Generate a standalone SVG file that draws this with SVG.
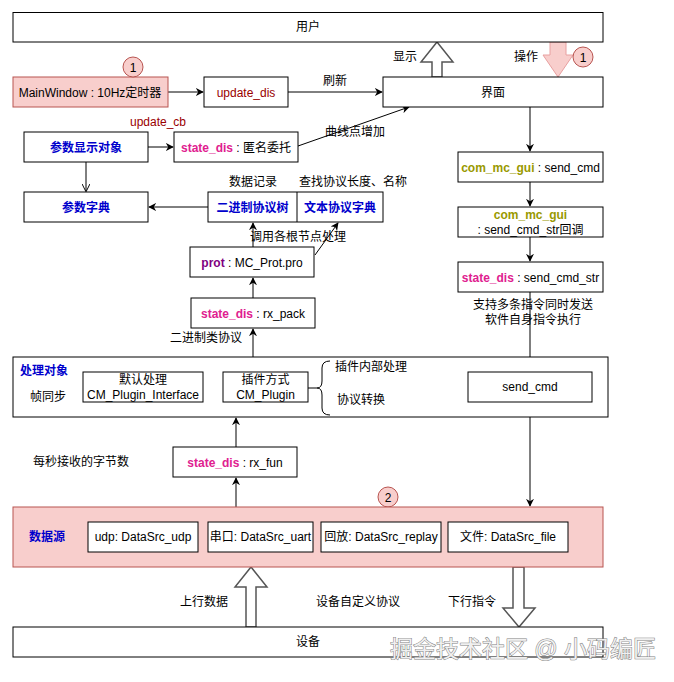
<svg xmlns="http://www.w3.org/2000/svg" width="674" height="682" viewBox="0 0 674 682">
<defs>
<style>
text{font-family:"Liberation Sans","Noto Sans CJK SC",sans-serif;font-size:12px;fill:#000;}
.c{text-anchor:middle;}
.box{fill:#fff;stroke:#000;stroke-width:1;}
.pink{fill:#f8cecc;stroke:#b85450;stroke-width:1;}
.blue{fill:#0000cc;font-weight:bold;}
.mag{fill:#e0208f;font-weight:bold;}
.olive{fill:#999900;font-weight:bold;}
.purp{fill:#800080;font-weight:bold;}
.red{fill:#990000;}
.ln{fill:none;stroke:#000;stroke-width:1;}
.gl{fill:none;stroke:#555;stroke-width:1.5;}
.hollow{fill:#fff;stroke:#555;stroke-width:1.5;}
.num{fill:#f8cecc;stroke:#b85450;stroke-width:1;}
</style>
<marker id="arr" viewBox="0 0 10 10" refX="9" refY="5" markerWidth="8" markerHeight="8" markerUnits="userSpaceOnUse" orient="auto">
<path d="M0,0 L10,5 L0,10 L3,5 Z" fill="#000"/>
</marker>
<marker id="open" viewBox="0 0 10 10" refX="9" refY="5" markerWidth="8" markerHeight="8" markerUnits="userSpaceOnUse" orient="auto">
<path d="M0,0 L10,5 L0,10" fill="none" stroke="#000" stroke-width="1.2"/>
</marker>
</defs>
<rect width="674" height="682" fill="#fff"/>

<g id="connectors">
<line class="ln" x1="168" y1="92" x2="203" y2="92" marker-end="url(#arr)"/>
<line class="ln" x1="288" y1="92" x2="382" y2="92" marker-end="url(#arr)"/>
<text class="c" x="335" y="85">刷新</text>
<line class="ln" x1="148" y1="147" x2="173" y2="147" marker-end="url(#arr)"/>
<line class="ln" x1="298" y1="146" x2="409" y2="107" marker-end="url(#arr)"/>
<text class="c" x="355" y="136">曲线点增加</text>
<line class="ln" x1="86" y1="162" x2="86" y2="191" marker-end="url(#open)"/>
<line class="ln" x1="208" y1="207" x2="149" y2="207" marker-end="url(#arr)"/>
<line class="ln" x1="253" y1="247" x2="253" y2="223" marker-end="url(#arr)"/>
<line class="ln" x1="315" y1="255" x2="338" y2="223" marker-end="url(#arr)"/>
<text class="c" x="298" y="241">调用各根节点处理</text>
<line class="ln" x1="253" y1="298" x2="253" y2="278" marker-end="url(#arr)"/>
<line class="ln" x1="253" y1="357" x2="253" y2="329" marker-end="url(#arr)"/>
<text class="c" x="206" y="342">二进制类协议</text>
<line class="ln" x1="236" y1="447" x2="236" y2="418" marker-end="url(#arr)"/>
<line class="ln" x1="236" y1="507" x2="236" y2="478" marker-end="url(#arr)"/>
<line class="gl" x1="530" y1="107" x2="530" y2="151" marker-end="url(#arr)"/>
<line class="gl" x1="530" y1="182" x2="530" y2="206" marker-end="url(#arr)"/>
<line class="gl" x1="530" y1="237" x2="530" y2="261" marker-end="url(#arr)"/>
<line class="gl" x1="530" y1="292" x2="530" y2="371" marker-end="url(#arr)"/>
<line class="ln" x1="530" y1="402" x2="530" y2="506" marker-end="url(#arr)"/>
<path class="hollow" d="M432,77 L432,62 L421,62 L437,42 L453,62 L442,62 L442,77 Z"/>
<path d="M550,42 L550,55 L543,55 L558,77 L573,55 L566,55 L566,42 Z" fill="#f8cecc" stroke="#e8a0a0" stroke-width="1"/>
<path class="hollow" d="M246,627 L246,587 L235,587 L251,567 L267,587 L256,587 L256,627 Z"/>
<path class="hollow" d="M513,567 L513,608 L503,608 L519,627 L535,608 L524,608 L524,567 Z"/>
</g>

<g id="user">
<rect class="box" x="13" y="12.5" width="590" height="29.5"/>
<text class="c" x="308" y="31">用户</text>
</g>
<text x="405" y="61" class="c">显示</text>
<text x="526" y="61" class="c">操作</text>
<g id="badge1b">
<circle class="num" cx="583" cy="57" r="10"/>
<text class="c" x="583" y="61.5">1</text>
</g>

<g id="mainwindow">
<rect class="pink" x="13" y="77" width="155" height="30"/>
<text class="c" x="90" y="96.5">MainWindow : 10Hz定时器</text>
</g>
<g id="badge1a">
<circle class="num" cx="133" cy="67" r="10"/>
<text class="c" x="133" y="71.5">1</text>
</g>
<g id="update_dis">
<rect class="box" x="204" y="77" width="84" height="30"/>
<text class="c red" x="246" y="96.5">update_dis</text>
</g>
<g id="jiemian">
<rect class="box" x="383" y="77" width="220" height="30"/>
<text class="c" x="493" y="96.5">界面</text>
</g>
<text class="c red" x="158" y="126">update_cb</text>

<g id="param_display">
<rect class="box" x="24" y="132" width="124" height="30"/>
<text class="c blue" x="86" y="151.5">参数显示对象</text>
</g>
<g id="state_dis_anon">
<rect class="box" x="174" y="132" width="124" height="30"/>
<text class="c" x="236" y="151.5"><tspan class="mag">state_dis</tspan> : 匿名委托</text>
</g>

<g id="param_dict">
<rect class="box" x="24" y="192" width="124" height="30"/>
<text class="c blue" x="86" y="211.5">参数字典</text>
</g>
<g id="proto_tree">
<rect class="box" x="208" y="192" width="175" height="30"/>
<line class="ln" x1="297" y1="192" x2="297" y2="222"/>
<text class="c blue" x="252.5" y="211.5">二进制协议树</text>
<text class="c blue" x="340" y="211.5">文本协议字典</text>
</g>
<text class="c" x="253" y="186">数据记录</text>
<text class="c" x="353" y="186">查找协议长度、名称</text>

<g id="prot">
<rect class="box" x="190" y="247" width="124" height="30"/>
<text class="c" x="252" y="266.5"><tspan class="purp">prot</tspan> : MC_Prot.pro</text>
</g>
<g id="rx_pack">
<rect class="box" x="191" y="298" width="124" height="30"/>
<text class="c" x="253" y="317.5"><tspan class="mag">state_dis</tspan> : rx_pack</text>
</g>

<g id="send_cmd_gui">
<rect class="box" x="458" y="152" width="145" height="30"/>
<text class="c" x="530.5" y="171.5"><tspan class="olive">com_mc_gui</tspan> : send_cmd</text>
</g>
<g id="send_cmd_str_cb">
<rect class="box" x="458" y="207" width="145" height="30"/>
<text class="c olive" x="530.5" y="219">com_mc_gui</text>
<text class="c" x="530.5" y="234">: send_cmd_str回调</text>
</g>
<g id="send_cmd_str">
<rect class="box" x="458" y="262" width="145" height="30"/>
<text class="c" x="530.5" y="281.5"><tspan class="mag">state_dis</tspan> : send_cmd_str</text>
</g>
<text class="c" x="533" y="309">支持多条指令同时发送</text>
<text class="c" x="533" y="324">软件自身指令执行</text>

<g id="processing">
<rect class="box" x="13" y="357" width="595" height="60"/>
<text class="blue" x="20" y="375">处理对象</text>
<text class="c" x="48" y="401">帧同步</text>
<rect class="box" x="83" y="372" width="120" height="30"/>
<text class="c" x="143" y="384">默认处理</text>
<text class="c" x="143" y="399">CM_Plugin_Interface</text>
<rect class="box" x="223" y="372" width="85" height="30"/>
<text class="c" x="265.5" y="384">插件方式</text>
<text class="c" x="265.5" y="399">CM_Plugin</text>
<path class="ln" d="M308,388 L317,388 M330,361 Q322,361 322,368 L322,381 Q322,388 317,388 Q322,388 322,395 L322,408 Q322,415 330,415"/>
<text x="335" y="371">插件内部处理</text>
<text x="337" y="404">协议转换</text>
<rect class="box" x="468" y="372" width="124" height="30"/>
<text class="c" x="530" y="390.5">send_cmd</text>
</g>

<text class="c" x="81" y="466">每秒接收的字节数</text>
<g id="rx_fun">
<rect class="box" x="173" y="447" width="124" height="30"/>
<text class="c" x="235" y="466.5"><tspan class="mag">state_dis</tspan> : rx_fun</text>
</g>

<g id="badge2">
<circle class="num" cx="388" cy="497" r="10"/>
<text class="c" x="388" y="501.5">2</text>
</g>
<g id="datasource">
<rect class="pink" x="13" y="507" width="590" height="60"/>
<text class="c blue" x="47" y="541">数据源</text>
<rect class="box" x="88" y="522" width="110" height="30"/>
<text class="c" x="143" y="541">udp: DataSrc_udp</text>
<rect class="box" x="208" y="522" width="105" height="30"/>
<text class="c" x="260.5" y="541">串口: DataSrc_uart</text>
<rect class="box" x="321" y="522" width="120" height="30"/>
<text class="c" x="381" y="541">回放: DataSrc_replay</text>
<rect class="box" x="448" y="522" width="120" height="30"/>
<text class="c" x="508" y="541">文件: DataSrc_file</text>
</g>

<text class="c" x="204" y="606">上行数据</text>
<text class="c" x="358" y="606">设备自定义协议</text>
<text class="c" x="472" y="606">下行指令</text>

<g id="device">
<rect class="box" x="13" y="627" width="590" height="30"/>
<text class="c" x="308" y="646">设备</text>
</g>

<text x="523" y="657" text-anchor="middle" style="font-size:23px;fill:#f0f0f0;stroke:#808080;stroke-width:1;paint-order:stroke;">掘金技术社区 @ 小码编匠</text>
</svg>
